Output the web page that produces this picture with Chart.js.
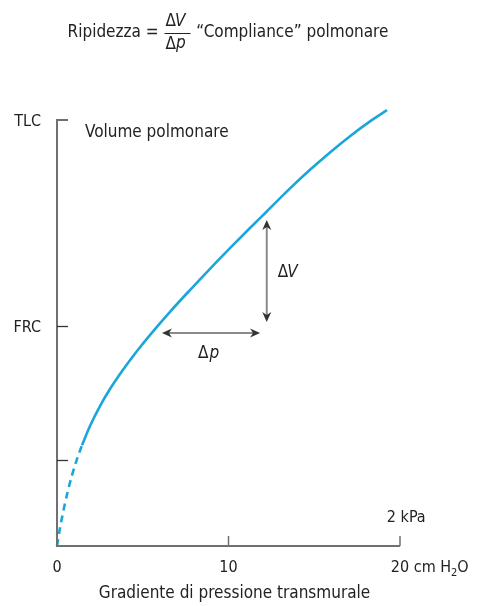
<!DOCTYPE html>
<html>
<head>
<meta charset="utf-8">
<script src="https://cdn.jsdelivr.net/npm/chart.js@4.4.1/dist/chart.umd.min.js"></script>
<style>
  html, body { margin: 0; padding: 0; background: #fff; }
  #wrap { width: 477px; height: 606px; }
</style>
</head>
<body>
<div id="wrap"><canvas id="chartCompliance"></canvas></div>
<script>
// pressione transmurale (cm H2O) e volume polmonare (% TLC)
const dashedPressure = [0, 0.175, 0.408, 0.641, 0.875, 1.166, 1.458];
const dashedVolume   = [0, 4.23, 8.92, 13.05, 16.62, 20.38, 23.66];
const solidPressure  = [1.458, 1.924, 2.507, 3.090, 3.673, 4.257, 4.840, 5.714, 6.589, 7.755, 8.921, 10.087, 11.254, 12.245, 13.586, 14.752, 15.918, 17.085, 18.251, 19.242];
const solidVolume    = [23.66, 28.17, 32.86, 36.85, 40.38, 43.62, 46.67, 50.93, 54.98, 60.09, 65.07, 69.91, 74.65, 78.59, 83.94, 88.31, 92.39, 96.20, 99.67, 102.3];

const xTickValues = [0, 10, 20];
const xTickLabels = ["0", "10", "20"];
const yTickValues = [100, 51.6, 20.2];
const yTickLabels = ["TLC", "FRC", ""];

// frecce ΔV e Δp
const deltaV = [12.23, 52.6, 76.5];   // x, y da, y a
const deltaP = [50.0, 6.12, 11.84];   // y, x da, x a

const FONT = "'Liberation Sans Narrow', 'DejaVu Sans Condensed', sans-serif";
const TEXT = "#222";
const AXIS = "#707070";

function toPoints(xs, ys) {
    return xs.map((x, i) => ({ x: x, y: ys[i] }));
}

function arrowHead(c, x, y, dx, dy) {
    const len = 10, half = 4.5;
    const px = -dy, py = dx;
    c.beginPath();
    c.moveTo(x, y);
    c.lineTo(x - dx * len + px * half, y - dy * len + py * half);
    c.lineTo(x - dx * len * 0.7, y - dy * len * 0.7);
    c.lineTo(x - dx * len - px * half, y - dy * len - py * half);
    c.closePath();
    c.fill();
}

const decorPlugin = {
    id: 'decor',
    afterDraw(chart) {
        const { ctx: c, scales: { x, y } } = chart;
        const x0 = x.getPixelForValue(0);
        const x20 = x.getPixelForValue(20);
        const yTop = y.getPixelForValue(100);
        const yBot = y.getPixelForValue(0);

        c.save();
        // assi
        c.strokeStyle = AXIS;
        c.lineWidth = 2;
        c.beginPath();
        c.moveTo(x0 + 11, yTop);
        c.lineTo(x0, yTop);
        c.lineTo(x0, yBot);
        c.lineTo(x20, yBot);
        c.stroke();

        // tacche y
        c.strokeStyle = "#333";
        c.lineWidth = 1.3;
        yTickValues.slice(1).forEach(v => {
            const py = Math.round(y.getPixelForValue(v)) + 0.5;
            c.beginPath();
            c.moveTo(x0, py);
            c.lineTo(x0 + 11, py);
            c.stroke();
        });
        // tacche x
        c.strokeStyle = AXIS;
        c.lineWidth = 1.5;
        xTickValues.slice(1).forEach(v => {
            const px = x.getPixelForValue(v);
            c.beginPath();
            c.moveTo(px, yBot);
            c.lineTo(px, yBot - 10);
            c.stroke();
        });

        c.fillStyle = TEXT;
        c.textBaseline = 'middle';
        c.font = `16px ${FONT}`;
        c.textAlign = 'right';
        yTickValues.forEach((v, i) => {
            if (yTickLabels[i]) c.fillText(yTickLabels[i], x0 - 16, y.getPixelForValue(v) + 2);
        });
        c.textAlign = 'center';
        xTickValues.forEach((v, i) => {
            const px = x.getPixelForValue(v);
            c.fillText(xTickLabels[i], px, yBot + 22);
        });
        // unità
        c.textAlign = 'left';
        const w20 = c.measureText("20").width;
        let ux = x20 + w20 / 2;
        c.fillText(" cm H", ux, yBot + 22);
        ux += c.measureText(" cm H").width;
        c.font = `11px ${FONT}`;
        c.fillText("2", ux, yBot + 27);
        ux += c.measureText("2").width;
        c.font = `16px ${FONT}`;
        c.fillText("O", ux, yBot + 22);
        c.fillText("2 kPa", x20 - w20 / 2 - 4, yBot - 28);

        c.font = `17px ${FONT}`;
        c.textAlign = 'center';
        c.fillText("Gradiente di pressione transmurale", (x0 + x20) / 2 + 6, yBot + 48);
        c.textAlign = 'left';
        c.fillText("Volume polmonare", x0 + 28, yTop + 13);

        // frecce
        const vx = x.getPixelForValue(deltaV[0]);
        const vy1 = y.getPixelForValue(deltaV[1]);
        const vy2 = y.getPixelForValue(deltaV[2]);
        c.strokeStyle = "#8a8a8a";
        c.lineWidth = 2;
        c.beginPath();
        c.moveTo(vx, vy1 - 6);
        c.lineTo(vx, vy2 + 6);
        c.stroke();
        c.fillStyle = "#333";
        arrowHead(c, vx, vy1, 0, 1);
        arrowHead(c, vx, vy2, 0, -1);

        const hy = y.getPixelForValue(deltaP[0]);
        const hx1 = x.getPixelForValue(deltaP[1]);
        const hx2 = x.getPixelForValue(deltaP[2]);
        c.beginPath();
        c.moveTo(hx1 + 6, hy);
        c.lineTo(hx2 - 6, hy);
        c.stroke();
        arrowHead(c, hx1, hy, -1, 0);
        arrowHead(c, hx2, hy, 1, 0);

        c.fillStyle = TEXT;
        c.font = `17px ${FONT}`;
        c.textAlign = 'left';
        const dw = c.measureText("Δ").width;
        c.fillText("Δ", vx + 11, (vy1 + vy2) / 2 + 2);
        c.font = `italic 17px ${FONT}`;
        c.fillText("V", vx + 10 + dw, (vy1 + vy2) / 2 + 2);
        c.font = `17px ${FONT}`;
        const pxm = (hx1 + hx2) / 2 - 4;
        c.fillText("Δ", pxm - 9, hy + 21);
        c.font = `italic 17px ${FONT}`;
        c.fillText("p", pxm - 8 + dw, hy + 21);

        // titolo
        c.font = `17px ${FONT}`;
        const partA = "Ripidezza = ";
        const partB = " \u201CCompliance\u201D polmonare";
        const wA = c.measureText(partA).width;
        const wB = c.measureText(partB).width;
        const wF = 28;
        let tx = 228 - (wA + wF + wB) / 2;
        const ty = 33;
        c.textAlign = 'left';
        c.fillText(partA, tx, ty);
        tx += wA;
        c.fillText("Δ", tx + 2, ty - 11);
        c.fillText("Δ", tx + 2, ty + 12);
        c.font = `italic 17px ${FONT}`;
        c.fillText("V", tx + 1 + dw, ty - 11);
        c.fillText("p", tx + 2 + dw, ty + 11);
        c.strokeStyle = TEXT;
        c.lineWidth = 1;
        c.beginPath();
        c.moveTo(tx + 1, ty + 0.5);
        c.lineTo(tx + wF - 1, ty + 0.5);
        c.stroke();
        c.font = `17px ${FONT}`;
        c.fillText(partB, tx + wF, ty);
        c.restore();
    }
};

new Chart(document.getElementById("chartCompliance"), {
    type: 'scatter',
    data: {
        datasets: [
            {
                data: toPoints(dashedPressure, dashedVolume),
                showLine: true,
                borderColor: "#1ba6da",
                borderWidth: 2.6,
                borderDash: [7, 5],
                pointRadius: 0,
                cubicInterpolationMode: 'monotone',
                clip: false
            },
            {
                data: toPoints(solidPressure, solidVolume),
                showLine: true,
                borderColor: "#1ba6da",
                borderWidth: 2.6,
                pointRadius: 0,
                cubicInterpolationMode: 'monotone',
                clip: false
            }
        ]
    },
    options: {
        responsive: true,
        maintainAspectRatio: false,
        animation: false,
        layout: { padding: { left: 57, right: 77, top: 120, bottom: 60 } },
        plugins: { legend: { display: false }, tooltip: { enabled: false } },
        scales: {
            x: { type: 'linear', min: 0, max: 20, display: false },
            y: { type: 'linear', min: 0, max: 100, display: false }
        }
    },
    plugins: [decorPlugin]
});
</script>
</body>
</html>
